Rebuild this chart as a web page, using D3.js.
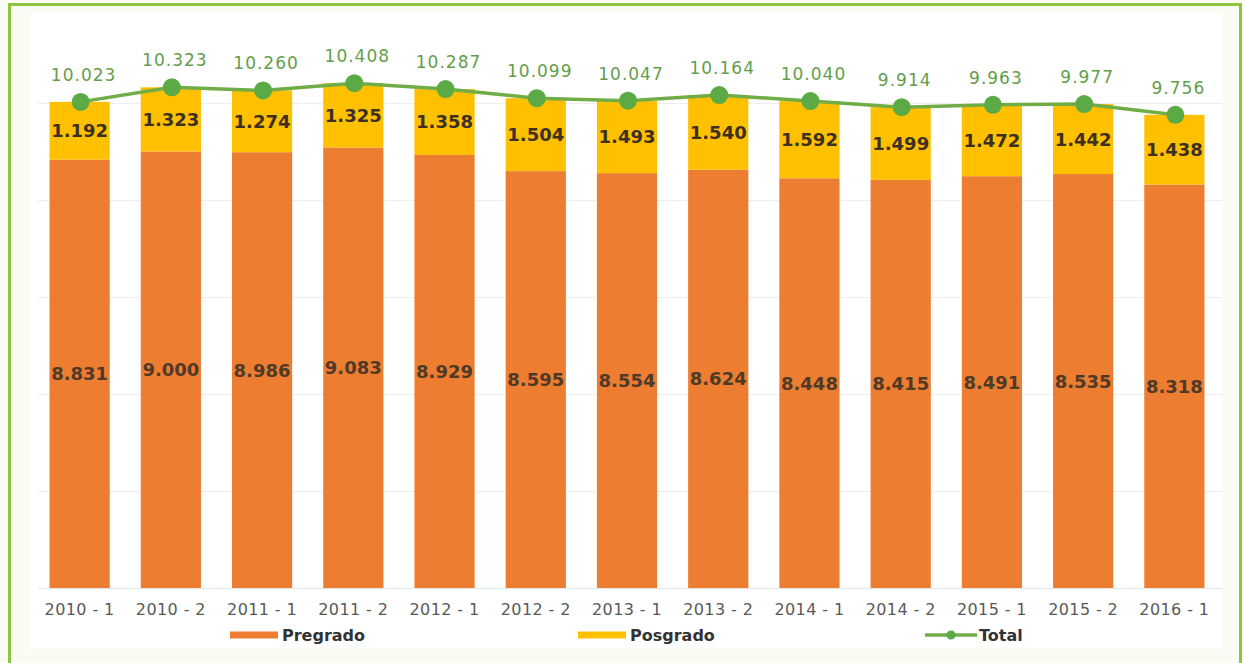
<!DOCTYPE html>
<html>
<head>
<meta charset="utf-8">
<script src="https://cdn.jsdelivr.net/npm/d3@7"></script>
<style>
  body { margin: 0; background: #fff; }
  svg text { font-family: "DejaVu Sans", Verdana, sans-serif; }
</style>
</head>
<body>
<div id="chart"></div>
<script>
// chart data
var periodos = ["2010 - 1", "2010 - 2", "2011 - 1", "2011 - 2", "2012 - 1", "2012 - 2", "2013 - 1",
                "2013 - 2", "2014 - 1", "2014 - 2", "2015 - 1", "2015 - 2", "2016 - 1"];
var pregrado = [8831, 9000, 8986, 9083, 8929, 8595, 8554, 8624, 8448, 8415, 8491, 8535, 8318];
var posgrado = [1192, 1323, 1274, 1325, 1358, 1504, 1493, 1540, 1592, 1499, 1472, 1442, 1438];
var total    = [10023, 10323, 10260, 10408, 10287, 10099, 10047, 10164, 10040, 9914, 9963, 9977, 9756];
var gridTicks = [0, 2000, 4000, 6000, 8000, 10000];
var legendNames = ["Pregrado", "Posgrado", "Total"];

var W = 1243, H = 663;
var colPre = "#ED7D31", colPos = "#FFC000", colTot = "#70AD47";

// Spanish style thousands separator
var es = d3.formatLocale({decimal: ",", thousands: ".", grouping: [3], currency: ["$", ""]});
var fmt = es.format(",d");

var data = periodos.map(function(p, i) {
    return {name: p, pre: pregrado[i], pos: posgrado[i], tot: total[i]};
});

var svg = d3.select("#chart")
    .append("svg")
    .attr("width", W)
    .attr("height", H);

// frame
svg.append("rect").attr("width", W).attr("height", H).attr("fill", "#f9fcf2");
svg.append("rect").attr("x", 30).attr("y", 12).attr("width", 1192).attr("height", 637).attr("fill", "#fff");
svg.append("path")
    .attr("d", "M9.5," + H + "V4.5H1240.5V" + H)
    .attr("fill", "none")
    .attr("stroke", "#8CC63F")
    .attr("stroke-width", 3);

var x = d3.scaleBand()
    .domain(periodos)
    .range([34, 1220])
    .paddingInner(0.34)
    .paddingOuter(0.17);

var y = d3.scaleLinear()
    .domain([0, 12000])
    .range([588, 588 - 12 * 48.5]);

// gridlines
svg.append("g")
    .selectAll("line")
    .data(gridTicks)
    .enter()
    .append("line")
    .attr("x1", 38)
    .attr("x2", 1222)
    .attr("y1", function(d) { return Math.round(y(d)) + 0.5; })
    .attr("y2", function(d) { return Math.round(y(d)) + 0.5; })
    .attr("stroke", function(d) { return d === 0 ? "#dfe6ee" : "#eeeeee"; })
    .attr("stroke-width", 1);

// bars - pregrado
svg.append("g")
    .selectAll("rect")
    .data(data)
    .enter()
    .append("rect")
    .attr("x", function(d) { return x(d.name); })
    .attr("y", function(d) { return y(d.pre); })
    .attr("width", x.bandwidth())
    .attr("height", function(d) { return y(0) - y(d.pre); })
    .attr("fill", colPre);

// bars - posgrado stacked on top
svg.append("g")
    .selectAll("rect")
    .data(data)
    .enter()
    .append("rect")
    .attr("x", function(d) { return x(d.name); })
    .attr("y", function(d) { return y(d.pre + d.pos); })
    .attr("width", x.bandwidth())
    .attr("height", function(d) { return y(d.pre) - y(d.pre + d.pos); })
    .attr("fill", colPos);

// x axis labels
svg.append("g")
    .attr("transform", "translate(0,588)")
    .call(d3.axisBottom(x).tickSize(0).tickPadding(16))
    .call(function(g) { g.select(".domain").remove(); })
    .selectAll("text")
    .attr("font-family", "DejaVu Sans, Verdana, sans-serif")
    .attr("font-size", "16px")
    .attr("letter-spacing", "0.4px")
    .attr("fill", "#595959");

// total line
var cx = function(d) { return x(d.name) + x.bandwidth() / 2 + 1; };
var line = d3.line()
    .x(cx)
    .y(function(d) { return y(d.tot); });

svg.append("path")
    .datum(data)
    .attr("d", line)
    .attr("fill", "none")
    .attr("stroke", colTot)
    .attr("stroke-width", 3.5);

svg.append("g")
    .selectAll("circle")
    .data(data)
    .enter()
    .append("circle")
    .attr("cx", cx)
    .attr("cy", function(d) { return y(d.tot); })
    .attr("r", 9)
    .attr("fill", "#5BAA46");

// value labels
svg.append("g")
    .selectAll("text")
    .data(data)
    .enter()
    .append("text")
    .attr("x", function(d) { return cx(d) + 3; })
    .attr("y", function(d) { return y(d.tot) - 21; })
    .attr("text-anchor", "middle")
    .attr("font-size", "17px")
    .attr("letter-spacing", "1px")
    .attr("fill", "#639E4A")
    .text(function(d) { return fmt(d.tot); });

svg.append("g")
    .selectAll("text")
    .data(data)
    .enter()
    .append("text")
    .attr("x", function(d) { return x(d.name) + x.bandwidth() / 2; })
    .attr("y", function(d) { return (y(d.pre) + y(d.pre + d.pos)) / 2; })
    .attr("dy", "0.36em")
    .attr("text-anchor", "middle")
    .attr("font-size", "18px")
    .attr("font-weight", "bold")
    .attr("fill", "#3d3020")
    .text(function(d) { return fmt(d.pos); });

svg.append("g")
    .selectAll("text")
    .data(data)
    .enter()
    .append("text")
    .attr("x", function(d) { return x(d.name) + x.bandwidth() / 2; })
    .attr("y", function(d) { return (y(0) + y(d.pre)) / 2; })
    .attr("dy", "0.36em")
    .attr("text-anchor", "middle")
    .attr("font-size", "18px")
    .attr("font-weight", "bold")
    .attr("fill", "#4f3a28")
    .text(function(d) { return fmt(d.pre); });

// legend
var legendX = [230, 578, 925];
var legend = svg.append("g");
legendNames.forEach(function(name, i) {
    var g = legend.append("g").attr("transform", "translate(" + legendX[i] + ",635)");
    if (i < 2) {
        g.append("rect").attr("x", 0).attr("y", -3.5).attr("width", 48).attr("height", 7)
            .attr("fill", i === 0 ? colPre : colPos);
    } else {
        g.append("line").attr("x1", 0).attr("x2", 52).attr("y1", 0).attr("y2", 0)
            .attr("stroke", colTot).attr("stroke-width", 3.5);
        g.append("circle").attr("cx", 26).attr("cy", 0).attr("r", 4.5).attr("fill", "#5BAA46");
    }
    g.append("text")
        .attr("x", i < 2 ? 52 : 54)
        .attr("dy", "0.36em")
        .attr("font-size", "16px")
        .attr("font-weight", "bold")
        .attr("fill", "#333333")
        .text(name);
});
</script>
</body>
</html>
